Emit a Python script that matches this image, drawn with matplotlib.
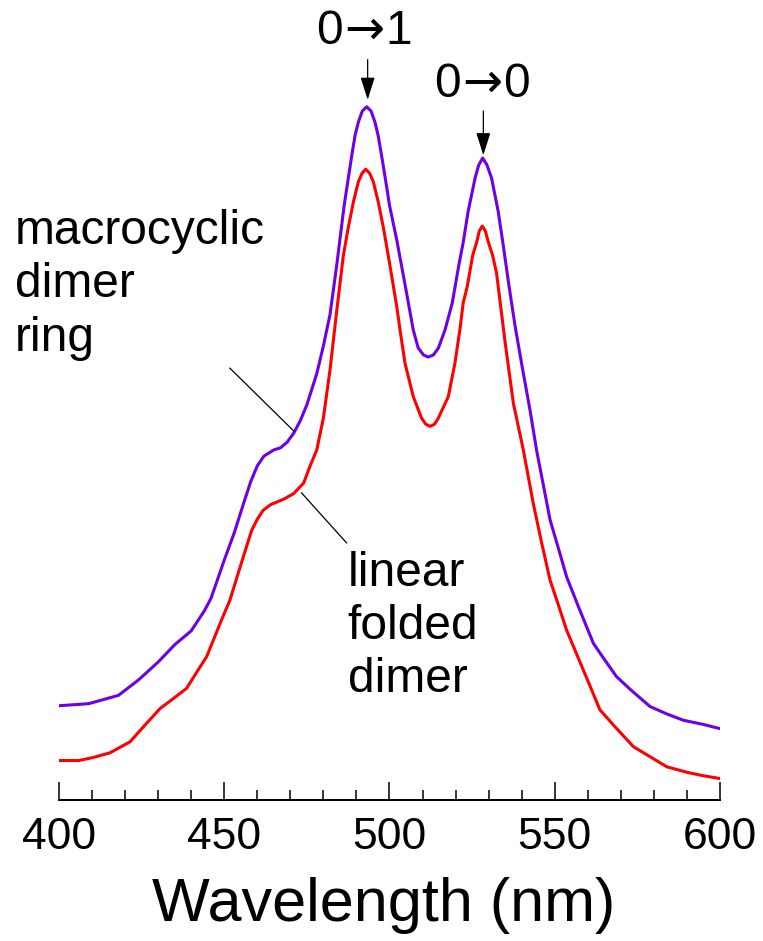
import numpy as np
from matplotlib import pyplot as plt

plt.rcParams['font.family'] = ['Liberation Sans', 'DejaVu Sans']
plt.rcParams['mathtext.fontset'] = 'dejavusans'

# absorbance (arb. units, normalised to the 0->1 peak of the ring)
ring_wl = [400, 409, 418, 424, 430, 435, 440, 444, 446, 450, 453, 456, 458, 460, 462,
           465, 467, 469, 471, 473, 475, 478, 480, 482, 484, 486.3, 487.1, 488.6, 489.6,
           490.6, 491.8, 493.1, 494.4, 495.6, 496.6, 497.6, 499.2, 500, 502.2, 505,
           507.2, 508.7, 510.3, 511.7, 513.3, 514.8, 516.8, 519, 521, 522.3, 523.8,
           525.9, 527, 528.2, 529.5, 530.9, 532.9, 534.4, 536, 538, 540, 542.5, 544.5,
           546, 548.6, 551, 553.6, 557, 561.7, 565, 568.7, 573, 578.8, 584, 589, 595, 600]
ring_abs = [0.136, 0.139, 0.151, 0.173, 0.199, 0.224, 0.244, 0.273, 0.291, 0.346, 0.385,
            0.430, 0.459, 0.482, 0.496, 0.505, 0.508, 0.516, 0.529, 0.547, 0.570, 0.615,
            0.655, 0.700, 0.770, 0.858, 0.883, 0.930, 0.959, 0.978, 0.994, 1.000, 0.994,
            0.978, 0.958, 0.930, 0.883, 0.858, 0.808, 0.736, 0.678, 0.652, 0.642, 0.639,
            0.642, 0.652, 0.678, 0.717, 0.772, 0.804, 0.849, 0.897, 0.916, 0.926, 0.916,
            0.897, 0.849, 0.801, 0.747, 0.684, 0.629, 0.563, 0.505, 0.468, 0.404, 0.365,
            0.322, 0.281, 0.226, 0.203, 0.178, 0.159, 0.135, 0.124, 0.115, 0.109, 0.103]

linear_wl = [400, 406, 410, 415.4, 421.5, 426, 430.6, 434.5, 438.6, 441.5, 444.7, 447,
             449.2, 451.7, 455, 458.3, 460, 461.8, 464, 466, 468, 471, 474, 476, 478, 480,
             482, 484, 486, 487.5, 489.1, 490.6, 491.7, 492.8, 494, 495.1, 496.6, 498.3,
             500, 502.2, 503.2, 504.7, 507.2, 509.7, 511, 512.3, 513.6, 514.8, 517.8,
             519.8, 521.3, 522.3, 523.5, 525.2, 526.4, 527.2, 528.1, 529, 529.9, 531.2,
             532.4, 535, 537.5, 540.5, 543.5, 546, 548.6, 551, 553.6, 558, 563.7, 568,
             573.8, 579, 583.9, 590, 595, 600]
linear_abs = [0.057, 0.057, 0.061, 0.068, 0.084, 0.108, 0.132, 0.146, 0.161, 0.183, 0.207,
              0.234, 0.260, 0.288, 0.339, 0.389, 0.405, 0.418, 0.426, 0.430, 0.434, 0.442,
              0.457, 0.482, 0.505, 0.551, 0.620, 0.704, 0.784, 0.825, 0.863, 0.892, 0.904,
              0.910, 0.904, 0.892, 0.863, 0.822, 0.775, 0.712, 0.678, 0.630, 0.582, 0.551,
              0.542, 0.539, 0.542, 0.551, 0.582, 0.630, 0.678, 0.717, 0.740, 0.786, 0.805,
              0.821, 0.828, 0.821, 0.805, 0.786, 0.760, 0.660, 0.572, 0.505, 0.428, 0.372,
              0.317, 0.283, 0.245, 0.195, 0.130, 0.107, 0.077, 0.062, 0.048, 0.040, 0.035,
              0.031]

fig = plt.figure(figsize=(7.63, 9.41), dpi=100)
ax = fig.add_axes([0.0773, 0.1498, 0.8663, 0.8502])

ax.plot(ring_wl, ring_abs, color='#6e00e6', lw=2.2)
ax.plot(linear_wl, linear_abs, color='#ff0000', lw=2.2)

ax.set_xlim(400, 600)
ax.set_ylim(0, 1.154)
for s in ['left', 'right', 'top']:
    ax.spines[s].set_visible(False)
ax.spines['bottom'].set_linewidth(1.4)
ax.set_yticks([])
ax.set_xticks(np.arange(400, 601, 50))
ax.set_xticks(np.arange(400, 601, 10), minor=True)
ax.tick_params(axis='x', which='major', direction='in', length=13, width=1.1,
               labelsize=32, pad=12)
ax.tick_params(axis='x', which='minor', direction='in', length=7.2, width=1.1)
ax.set_xlabel('Wavelength (nm)', fontsize=44, labelpad=14, x=0.491)

ax.text(386.7, 0.853, 'macrocyclic\ndimer\nring', fontsize=34.5, va='top', ha='left',
        linespacing=1.25)
ax.text(487.4, 0.359, 'linear\nfolded\ndimer', fontsize=34.5, va='top', ha='left',
        linespacing=1.22)

ax.plot([451.7, 471.1], [0.623, 0.532], color='black', lw=0.9)
ax.plot([473.4, 487.0], [0.443, 0.371], color='black', lw=0.9)

ax.text(492.3, 1.090, r'0$\!\rightarrow\!$1', fontsize=34.5, ha='center', va='baseline')
ax.text(528.1, 1.014, r'0$\!\rightarrow\!$0', fontsize=34.5, ha='center', va='baseline')
ax.annotate('', xy=(493.4, 1.010), xytext=(493.4, 1.068), annotation_clip=False,
            arrowprops=dict(arrowstyle='-|>,head_length=0.7,head_width=0.22',
                            color='black', lw=0.9, shrinkA=0, shrinkB=0, mutation_scale=20))
ax.annotate('', xy=(528.4, 0.930), xytext=(528.4, 0.994), annotation_clip=False,
            arrowprops=dict(arrowstyle='-|>,head_length=0.7,head_width=0.22',
                            color='black', lw=0.9, shrinkA=0, shrinkB=0, mutation_scale=20))

fig.savefig('out.png', dpi=100)
